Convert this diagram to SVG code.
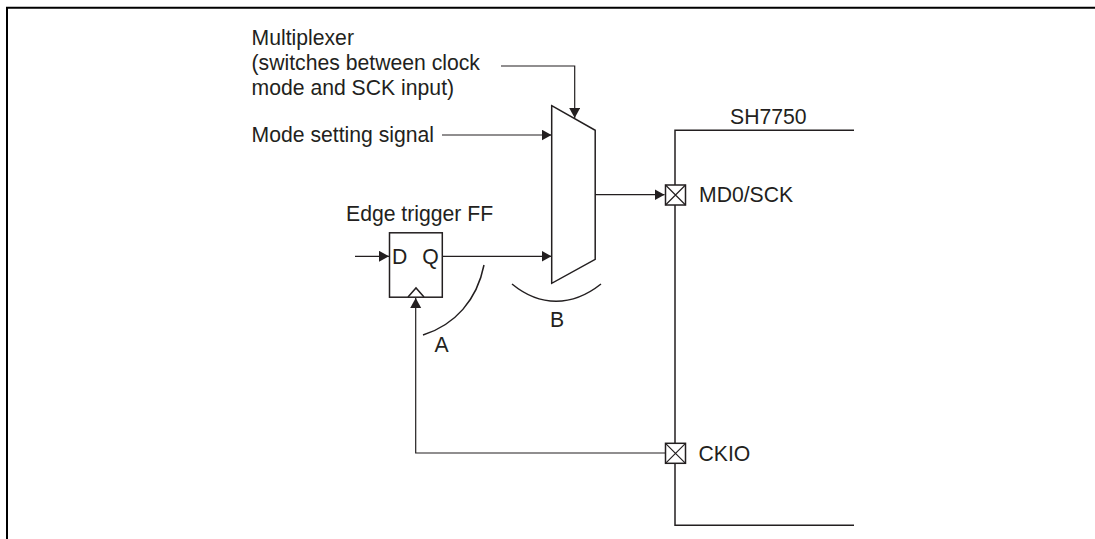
<svg xmlns="http://www.w3.org/2000/svg" width="1095" height="539" viewBox="0 0 1095 539">
<style>
text{font-family:"Liberation Sans",Arial,sans-serif;font-size:21.200px;fill:#231f20}
.l{fill:none;stroke:#231f20;stroke-width:1.2}
.h{fill:none;stroke:#231f20;stroke-width:1.5}
</style>
<defs>
<marker id="a" markerUnits="userSpaceOnUse" markerWidth="11" markerHeight="12" refX="10" refY="5.500" orient="auto"><path d="M0 0L10 5.500L0 11Z" fill="#231f20"/></marker>
</defs>
<rect width="1095" height="539" fill="#fff"/>
<path id="frame" d="M7 539V7.700H1095" fill="none" stroke="#000" stroke-width="2"/>
<g id="connectors">
<path class="l" marker-end="url(#a)" d="M501 66H574.700V118"/>
<path class="l" marker-end="url(#a)" d="M442 135H551.500"/>
<path class="l" marker-end="url(#a)" d="M595 194.700H664.500"/>
<path class="l" marker-end="url(#a)" d="M355 256.300H389"/>
<path class="l" marker-end="url(#a)" d="M442 256.300H551.500"/>
<path class="l" marker-end="url(#a)" d="M665 453H415.700V298"/>
<path class="h" d="M484 265C477 300 455 325 423 335"/>
<path class="h" d="M512 284C540 307 572 307 601 284"/>
</g>
<g id="mux"><path class="h" d="M551.700 105.700L595.200 130.300V259.300L551.700 283.300Z"/></g>
<g id="ff"><rect class="h" x="389.500" y="232.800" width="52.800" height="64.400"/><path class="h" d="M408 297L416 288L424 297"/><text x="392" y="264">D</text><text x="422.300" y="264">Q</text></g>
<g id="chip"><path class="h" d="M854 130.300H675V185M675 205V443M675 464V525.300H854"/></g>
<g id="pin-md0"><rect class="h" x="665.500" y="185" width="20" height="20"/><path class="l" d="M665.500 185L685.500 205M685.500 185L665.500 205"/></g>
<g id="pin-ckio"><rect class="h" x="665.500" y="443.300" width="20" height="20"/><path class="l" d="M665.500 443.300L685.500 463.300M685.500 443.300L665.500 463.300"/></g>
<g id="labels">
<text x="251.500" y="44.500">Multiplexer</text>
<text x="251.500" y="70">(switches between clock</text>
<text x="251.500" y="95">mode and SCK input)</text>
<text x="251.500" y="142">Mode setting signal</text>
<text x="346" y="220.500">Edge trigger FF</text>
<text x="730" y="124">SH7750</text>
<text x="699" y="202">MD0/SCK</text>
<text x="698.500" y="461">CKIO</text>
<text x="434.500" y="352">A</text>
<text x="550" y="327">B</text>
</g>
</svg>
